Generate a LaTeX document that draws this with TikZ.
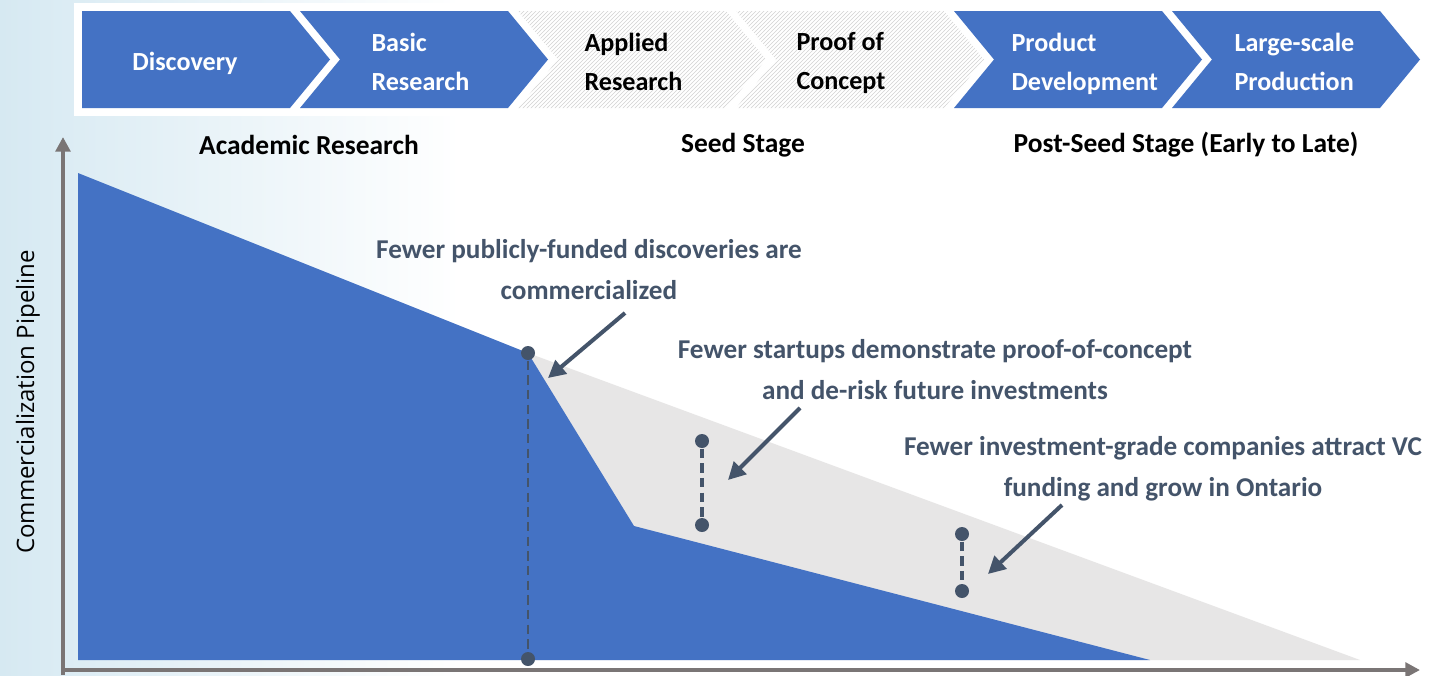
\documentclass[tikz,border=0pt]{standalone}
\usepackage{fontspec}
\setmainfont{Carlito}
\newfontfamily\axisfont{Open Sans}
\usetikzlibrary{arrows.meta,patterns}

\definecolor{stageblue}{RGB}{68,114,196}
\definecolor{gapgrey}{RGB}{231,230,230}
\definecolor{slate}{RGB}{68,84,106}
\definecolor{axisgrey}{RGB}{122,117,117}
\definecolor{bgblue}{RGB}{214,233,242}

\tikzset{every picture/.style={line width=0.75pt}}
\tikzset{
  chevblue/.style={fill=stageblue, draw=none},
  chevhatch/.style={pattern=north east lines, pattern color=gray!35, draw=none},
  chevtext/.style={font=\fontsize{19.6}{29.25}\selectfont\bfseries, align=left, inner sep=0pt},
  stagetext/.style={font=\fontsize{20.6}{24}\selectfont\bfseries, inner sep=0pt},
  notetext/.style={font=\fontsize{20.4}{30.75}\selectfont\bfseries, text=slate, align=center, inner sep=0pt},
  dot/.style={circle, fill=slate, inner sep=0pt, minimum size=10.5pt},
  dashlink/.style={draw=slate, line width=2.6pt, dash pattern={on 7pt off 4pt}},
  pointer/.style={draw=slate, line width=3pt, -{Triangle[length=13pt,width=13pt]}},
  axis/.style={draw=axisgrey, line width=3pt, -{Triangle[length=11pt,width=11pt]}}
}

\begin{document}
\begin{tikzpicture}[x=0.75pt,y=0.75pt,yscale=-1,xscale=1]
\useasboundingbox (0,0) rectangle (1438,675);

%Background
\fill[white] (0,0) rectangle (1438,675);
\shade[left color=bgblue, right color=white] (0,0) rectangle (460,675);
\fill[white] (74,3) rectangle (1438,116);

%Shape: Chevron [Discovery]
\draw[chevblue] (82,11) -- (290,11) -- (330,59.5) -- (290,108) -- (82,108) -- cycle ;
%Shape: Chevron [Basic Research]
\draw[chevblue] (300,11) -- (508,11) -- (548,59.5) -- (508,108) -- (300,108) -- (340,59.5) -- cycle ;
%Shape: Chevron [Applied Research]
\draw[chevhatch] (518,11) -- (726,11) -- (766,59.5) -- (726,108) -- (518,108) -- (558,59.5) -- cycle ;
%Shape: Chevron [Proof of Concept]
\draw[chevhatch] (736,11) -- (944,11) -- (984,59.5) -- (944,108) -- (736,108) -- (776,59.5) -- cycle ;
%Shape: Chevron [Product Development]
\draw[chevblue] (954,11) -- (1162,11) -- (1202,59.5) -- (1162,108) -- (954,108) -- (994,59.5) -- cycle ;
%Shape: Chevron [Large-scale Production]
\draw[chevblue] (1172,11) -- (1380,11) -- (1420,59.5) -- (1380,108) -- (1172,108) -- (1212,59.5) -- cycle ;

% Text Node
\node[chevtext, text=white] (discovery) at (185,63) {Discovery};
% Text Node
\node[chevtext, text=white, anchor=west] (basic) at (371,62) {Basic\\Research};
% Text Node
\node[chevtext, text=black, anchor=west] (applied) at (584,62) {Applied\\Research};
% Text Node
\node[chevtext, text=black, anchor=west] (proof) at (796,63) {Proof of\\Concept};
% Text Node
\node[chevtext, text=white, anchor=west] (product) at (1011,64) {Product\\Development};
% Text Node
\node[chevtext, text=white, anchor=west] (largescale) at (1234,62) {Large-scale\\Production};

% Text Node
\node[stagetext] (academic) at (309,145) {Academic Research};
% Text Node
\node[stagetext] (seed) at (743,145) {Seed Stage};
% Text Node
\node[stagetext] (postseed) at (1186,145) {Post-Seed Stage (Early to Late)};

%Shape: Polygon [gap]
\fill[gapgrey] (528,353) -- (1360,660) -- (528,660) -- cycle ;
%Shape: Polygon [pipeline]
\fill[stageblue] (78,173) -- (528,353) -- (634,526) -- (1150,660) -- (78,660) -- cycle ;

%Axes
\coordinate (origin) at (63,670);
\coordinate (ytip) at (63,137);
\coordinate (xtip) at (1420,670);
\draw[axis] (63,675) -- (ytip);
\draw[axis] (61,670) -- (xtip);

% Text Node
\node[font=\axisfont\fontsize{18}{22}\selectfont, rotate=90] (pipeline) at (28,402) {Commercialization Pipeline};

%Dots and dashed links
\node[dot] (p1top) at (528,353) {};
\node[dot] (p1bot) at (528,659) {};
\node[dot] (p2top) at (702,441) {};
\node[dot] (p2bot) at (702,525) {};
\node[dot] (p3top) at (962,534) {};
\node[dot] (p3bot) at (962,591) {};
\draw[dashlink, line width=2pt] (p1top) -- (p1bot);
\draw[dashlink] (p2top) -- (p2bot);
\draw[dashlink] (p3top) -- (p3bot);

% Text Node
\node[notetext] (note1) at (589,270) {Fewer publicly-funded discoveries are\\commercialized};
% Text Node
\node[notetext] (note2) at (935,370) {Fewer startups demonstrate proof-of-concept\\and de-risk future investments};
% Text Node
\node[notetext] (note3) at (1163,469) {Fewer investment-grade companies attract VC\\funding and grow in Ontario};

%Straight Lines [pointers]
\coordinate (a1s) at (625,313);
\coordinate (a1e) at (548,378);
\coordinate (a2s) at (800,408);
\coordinate (a2e) at (728,480);
\coordinate (a3s) at (1062,505);
\coordinate (a3e) at (988,574);
\draw[pointer] (a1s) -- (a1e);
\draw[pointer] (a2s) -- (a2e);
\draw[pointer] (a3s) -- (a3e);

\end{tikzpicture}
\end{document}
